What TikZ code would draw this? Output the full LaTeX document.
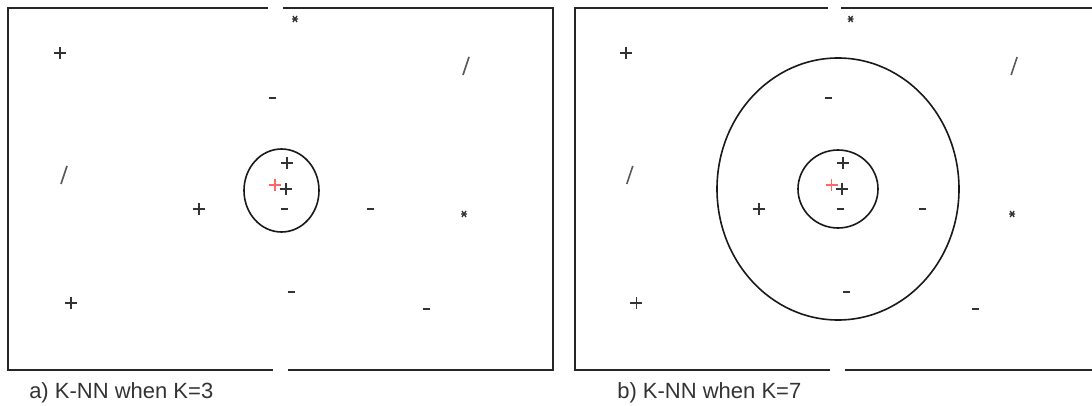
\documentclass[tikz,border=0pt]{standalone}
\usepackage{fontspec}
\setmainfont{Liberation Sans}
\usetikzlibrary{positioning}
\tikzset{
  frame/.style={line width=1.8pt, black!85},
  ring/.style={line width=1.2pt, black!90},
  mk/.style={line width=1.2pt, black!80},
  query/.style={line width=1.2pt, red!60},
  caption/.style={font=\fontsize{16.5pt}{18pt}\selectfont, text=black!80, inner sep=0pt}
}

\begin{document}
\begin{tikzpicture}[x=0.75pt, y=-0.75pt]
  \useasboundingbox (0,0) rectangle (1092,406);
  % frames, the right one runs off the page
  \draw[frame] (8,8) rectangle (553,370);
  \draw[frame] (1096,8) -- (575,8) -- (575,370) -- (1096,370);
  % little breaks in the frames
  \foreach \gx/\gy/\gw/\gh in {268/4/15/8, 273/366/15/8, 828/4/13/8, 830/366/15/8}
    \fill[white] (\gx,\gy) rectangle ++(\gw,\gh);

  % same points in both panels, right one is shifted and a bit narrower
  \foreach \dx/\sx in {0/1, 568.6/0.956} {
    \foreach \px/\py in {60/53, 287/163, 286/189, 199/209, 71/303}
      \draw[mk] ({\dx+\sx*\px},\py) ++(-6,0) -- ++(12,0) ++(-6,-6) -- ++(0,12);
    \foreach \px/\py in {272/98, 284/209, 370/209, 291/292, 426/309}
      \draw[mk] ({\dx+\sx*\px},\py) ++(-3.5,0) -- ++(7,0);
    \foreach \px/\py in {466/66, 64/175}
      \draw[mk, black!65] ({\dx+\sx*\px},\py) ++(3,-9) -- ++(-6,18);
    \foreach \px/\py in {295/19, 464/214}
      \draw[mk, line width=1pt] ({\dx+\sx*\px},\py) +(-3,0) -- +(3,0)
        +(-2,-3) -- +(2,3) +(2,-3) -- +(-2,3);
    % the query point
    \draw[query] ({\dx+\sx*275},185) ++(-6,0) -- ++(12,0) ++(-6,-6) -- ++(0,12);
  }

  % neighbourhoods
  \draw[ring] (281.5,190.5) ellipse [x radius=37.5, y radius=41.5];
  \draw[ring] (838,189) ellipse [x radius=40, y radius=39];
  \draw[ring] (838,189) ellipse [x radius=121, y radius=131];

  \node[caption, anchor=base west] (capa) at (29,398) {a) K-NN when K=3};
  \node[caption, anchor=base west] (capb) at (617,398) {b) K-NN when K=7};
\end{tikzpicture}
\end{document}
